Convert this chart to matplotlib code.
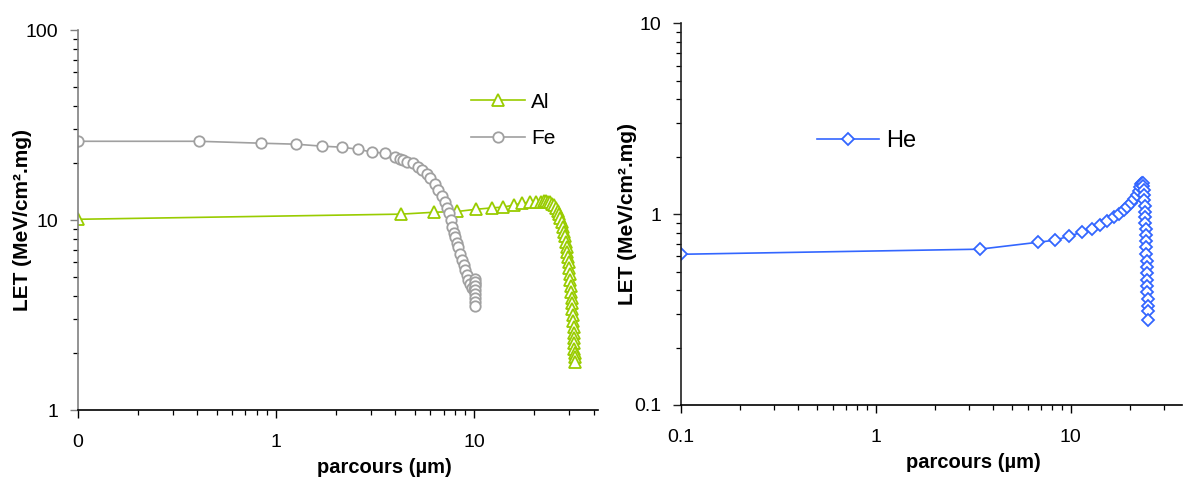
import numpy as np
import matplotlib
matplotlib.use("Agg")
import matplotlib.pyplot as plt
from matplotlib.ticker import FixedLocator, FixedFormatter, LogLocator, NullFormatter

plt.rcParams['font.family'] = ['Liberation Sans', 'DejaVu Sans']

# Al (left chart)
al_x = [0.1, 4.27, 6.28, 8.2, 10.2, 12.3, 13.9, 15.9, 17.5, 19.2, 20.5, 21.7, 22.4, 23.0,
        23.5, 24.0, 24.6, 25.3, 25.9, 26.4, 26.8, 27.2, 27.6, 28.0, 28.3, 28.6, 28.9, 29.2,
        29.5, 29.7, 29.9, 30.1, 30.3, 30.5, 30.7, 30.9, 31.1, 31.2, 31.3, 31.5, 31.6, 31.7,
        31.8, 31.9, 32.0, 32.0, 32.1, 32.1, 32.1]
al_y = [10.1, 10.75, 11.0, 11.1, 11.4, 11.6, 11.7, 12.0, 12.3, 12.4, 12.4, 12.5, 12.6, 12.6,
        12.5, 12.4, 12.2, 12.0, 11.6, 11.2, 10.8, 10.3, 9.8, 9.2, 8.7, 8.2, 7.7, 7.2,
        6.8, 6.4, 6.0, 5.6, 5.2, 4.85, 4.5, 4.2, 3.9, 3.65, 3.4, 3.15, 2.95, 2.75,
        2.55, 2.4, 2.25, 2.1, 2.0, 1.9, 1.8]

# Fe (left chart)
fe_x = [0.1, 0.408, 0.84, 1.26, 1.71, 2.15, 2.59, 3.05, 3.55, 3.99, 4.2, 4.38, 4.6, 4.92,
        5.2, 5.46, 5.75, 5.99, 6.3, 6.58, 6.85, 7.14, 7.3, 7.45, 7.6, 7.75, 7.9, 8.02,
        8.15, 8.3, 8.5, 8.69, 8.85, 9.01, 9.17, 9.33, 9.55, 9.78, 9.95, 10.05, 10.1, 10.1,
        10.1, 10.1, 10.1, 10.1, 10.1, 10.1]
fe_y = [26.0, 26.0, 25.4, 25.1, 24.5, 24.2, 23.6, 22.8, 22.5, 21.4, 21.0, 20.7, 20.3, 19.9,
        19.1, 18.3, 17.5, 16.6, 15.5, 14.4, 13.4, 12.4, 11.6, 10.9, 10.0, 9.2, 8.6, 8.14,
        7.6, 7.2, 6.6, 6.16, 5.8, 5.46, 5.15, 4.84, 4.6, 4.4, 4.3, 4.6, 4.9, 4.7,
        4.5, 4.3, 4.1, 3.9, 3.7, 3.55]

# He (right chart)
he_x = [0.1, 3.41, 6.78, 8.28, 9.77, 11.4, 12.8, 14.1, 15.3, 16.6, 17.7, 18.7, 19.5, 20.3,
        21.0, 21.8, 22.3, 22.7, 23.0, 23.2, 23.4, 23.5, 23.6, 23.7, 23.8, 23.9, 24.0, 24.0,
        24.1, 24.2, 24.2, 24.3, 24.4, 24.4, 24.5, 24.5, 24.6, 24.6, 24.7, 24.7, 24.8, 24.8,
        24.9, 24.9]
he_y = [0.616, 0.655, 0.712, 0.73, 0.766, 0.804, 0.834, 0.875, 0.919, 0.964, 1.0, 1.05, 1.09, 1.14,
        1.20, 1.26, 1.32, 1.38, 1.43, 1.46, 1.45, 1.40, 1.33, 1.26, 1.18, 1.10, 1.03, 0.96,
        0.90, 0.84, 0.78, 0.72, 0.67, 0.62, 0.57, 0.53, 0.49, 0.45, 0.42, 0.39, 0.36, 0.33,
        0.31, 0.28]

left_xticks = [0.1, 1, 10]
left_xlabels = ['0', '1', '10']
left_yticks = [1, 10, 100]
left_ylabels = ['1', '10', '100']
right_xticks = [0.1, 1, 10]
right_xlabels = ['0.1', '1', '10']
right_yticks = [0.1, 1, 10]
right_ylabels = ['0.1', '1', '10']

green = '#99CC00'
grey = '#A0A0A0'
blue = '#3366FF'

fig = plt.figure(figsize=(11.84, 4.79), dpi=100)
ax1 = fig.add_axes([0.0659, 0.144, 0.439, 0.793])
ax2 = fig.add_axes([0.575, 0.1545, 0.423, 0.797])


def style_axis(ax, xt, xl, yt, yl, yspine_col):
    ax.set_xscale('log')
    ax.set_yscale('log')
    ax.spines['top'].set_visible(False)
    ax.spines['right'].set_visible(False)
    ax.spines['left'].set_color(yspine_col)
    ax.spines['bottom'].set_color('black')
    ax.spines['left'].set_linewidth(1.2)
    ax.spines['bottom'].set_linewidth(1.2)
    ax.xaxis.set_major_locator(FixedLocator(xt))
    ax.xaxis.set_major_formatter(FixedFormatter(xl))
    ax.yaxis.set_major_locator(FixedLocator(yt))
    ax.yaxis.set_major_formatter(FixedFormatter(yl))
    ax.xaxis.set_minor_locator(LogLocator(base=10, subs=np.arange(2, 10)))
    ax.yaxis.set_minor_locator(LogLocator(base=10, subs=np.arange(2, 10)))
    ax.xaxis.set_minor_formatter(NullFormatter())
    ax.yaxis.set_minor_formatter(NullFormatter())
    ax.tick_params(which='major', direction='out', length=6, width=1, labelsize=14, pad=8)
    ax.tick_params(axis='x', which='major', pad=11)
    ax.tick_params(which='minor', direction='out', length=3.5, width=0.9)
    ax.tick_params(axis='y', colors=yspine_col, labelcolor='black')
    ax.set_xlabel('parcours (µm)', fontsize=14.5, fontweight='bold')
    ax.set_ylabel('LET (MeV/cm².mg)', fontsize=15, fontweight='bold')


ax1.plot(al_x, al_y, color=green, lw=1.2, marker='^', ms=8, mfc='white', mec=green,
         mew=1.3, label='Al')
ax1.plot(fe_x, fe_y, color=grey, lw=1.2, marker='o', ms=7.5, mfc='white', mec=grey,
         mew=1.3, label='Fe')
ax1.set_xlim(0.1, 42)
ax1.set_ylim(1, 100)
style_axis(ax1, left_xticks, left_xlabels, left_yticks, left_ylabels, '#808080')
ax1.xaxis.set_label_coords(0.59, -0.125)
ax1.yaxis.set_label_coords(-0.088, 0.5)
ax1.legend(loc='upper left', bbox_to_anchor=(0.72, 0.885), frameon=False, fontsize=15,
           handlelength=2.6, handletextpad=0.3, labelspacing=0.85)

ax2.plot(he_x, he_y, color=blue, lw=1.2, marker='D', ms=6.5, mfc='white', mec=blue,
         mew=1.3, label='He')
ax2.set_xlim(0.1, 37)
ax2.set_ylim(0.1, 10)
style_axis(ax2, right_xticks, right_xlabels, right_yticks, right_ylabels, '#202020')
ax2.xaxis.set_label_coords(0.585, -0.125)
ax2.yaxis.set_label_coords(-0.088, 0.5)
ax2.legend(loc='upper left', bbox_to_anchor=(0.23, 0.775), frameon=False, fontsize=17,
           handlelength=2.6, handletextpad=0.3)

fig.savefig('out.png', dpi=100)
